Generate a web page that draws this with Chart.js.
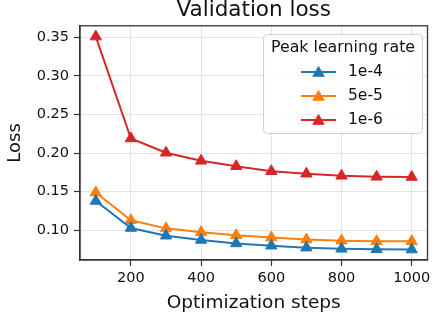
<!DOCTYPE html>
<html>
<head>
<meta charset="utf-8">
<script src="https://cdn.jsdelivr.net/npm/chart.js@4/dist/chart.umd.min.js"></script>
<style>
html,body{margin:0;padding:0;background:#fff;}
#wrap{width:435px;height:320px;}
</style>
</head>
<body>
<div id="wrap"><canvas id="c" width="435" height="320"></canvas></div>
<script>
const steps = [100, 200, 300, 400, 500, 600, 700, 800, 900, 1000];
const loss1e4 = [0.138, 0.103, 0.093, 0.0875, 0.083, 0.080, 0.0775, 0.076, 0.0755, 0.075];
const loss5e5 = [0.149, 0.113, 0.1025, 0.0975, 0.0935, 0.0905, 0.088, 0.0866, 0.0858, 0.0857];
const loss1e6 = [0.351, 0.219, 0.2005, 0.190, 0.183, 0.1765, 0.1733, 0.1706, 0.1693, 0.169];
const seriesLabels = ['1e-4', '5e-5', '1e-6'];
const seriesColors = ['#1f77b4', '#ff7f0e', '#d62728'];
const xTicks = [200, 400, 600, 800, 1000];
const yTicks = [0.10, 0.15, 0.20, 0.25, 0.30, 0.35];
const legendTitle = 'Peak learning rate';

const FONT = "'DejaVu Sans', sans-serif";
const seriesData = [loss1e4, loss5e5, loss1e6];

const datasets = seriesData.map((arr, i) => ({
  label: seriesLabels[i],
  data: steps.map((s, j) => ({x: s, y: arr[j]})),
  borderColor: seriesColors[i],
  backgroundColor: seriesColors[i],
  borderWidth: 2,
  pointStyle: 'triangle',
  pointRadius: 6.5,
  pointHoverRadius: 6.5,
  pointBorderWidth: 1,
  pointBorderColor: seriesColors[i],
  tension: 0
}));

const frameAndLegend = {
  id: 'frameAndLegend',
  afterDraw(chart) {
    const ctx = chart.ctx;
    const a = chart.chartArea;
    ctx.save();
    ctx.strokeStyle = '#333';
    ctx.lineWidth = 1.3;
    ctx.strokeRect(a.left, a.top, a.right - a.left, a.bottom - a.top);
    // legend box
    const bx = 263.5, by = 34.5, bw = 159, bh = 99, r = 4;
    ctx.beginPath();
    ctx.moveTo(bx + r, by);
    ctx.arcTo(bx + bw, by, bx + bw, by + bh, r);
    ctx.arcTo(bx + bw, by + bh, bx, by + bh, r);
    ctx.arcTo(bx, by + bh, bx, by, r);
    ctx.arcTo(bx, by, bx + bw, by, r);
    ctx.closePath();
    ctx.fillStyle = 'rgba(255,255,255,0.8)';
    ctx.fill();
    ctx.strokeStyle = '#d0d0d0';
    ctx.lineWidth = 1;
    ctx.stroke();
    ctx.fillStyle = '#111';
    ctx.font = '15.8px ' + FONT;
    ctx.textAlign = 'center';
    ctx.textBaseline = 'middle';
    ctx.fillText(legendTitle, bx + bw / 2, 48);
    const ys = [72, 96, 120];
    const rr = 6.5;
    seriesLabels.forEach((lab, i) => {
      const y = ys[i];
      ctx.strokeStyle = seriesColors[i];
      ctx.lineWidth = 2;
      ctx.beginPath();
      ctx.moveTo(301, y);
      ctx.lineTo(336, y);
      ctx.stroke();
      ctx.fillStyle = seriesColors[i];
      ctx.beginPath();
      ctx.moveTo(318.5, y + 1 - rr);
      ctx.lineTo(318.5 + rr * Math.sin(2 * Math.PI / 3), y + 1 + rr / 2);
      ctx.lineTo(318.5 - rr * Math.sin(2 * Math.PI / 3), y + 1 + rr / 2);
      ctx.closePath();
      ctx.fill();
      ctx.lineWidth = 1;
      ctx.stroke();
      ctx.fillStyle = '#111';
      ctx.textAlign = 'left';
      ctx.font = '15.5px ' + FONT;
      ctx.fillText(lab, 348, y);
    });
    ctx.restore();
  }
};

new Chart(document.getElementById('c'), {
  type: 'line',
  data: {datasets},
  plugins: [frameAndLegend],
  options: {
    responsive: false,
    animation: false,
    events: [],
    layout: {padding: {left: 0, right: 5, top: 0, bottom: 0}},
    plugins: {
      legend: {display: false},
      tooltip: {enabled: false},
      title: {
        display: true,
        fullSize: false,
        text: 'Validation loss',
        color: '#111',
        font: {family: FONT, size: 21.5, weight: 'normal', lineHeight: 1.2},
        padding: {top: -2, bottom: 2}
      }
    },
    scales: {
      x: {
        type: 'linear',
        min: 55,
        max: 1045,
        afterFit(s) { s.height = 60; },
        afterBuildTicks(s) { s.ticks = xTicks.map(v => ({value: v})); },
        ticks: {
          color: '#111',
          font: {family: FONT, size: 14.5},
          padding: 4,
          autoSkip: false,
          maxRotation: 0,
          callback: v => String(v)
        },
        grid: {color: '#e3e3e3', lineWidth: 1, tickLength: 6, tickColor: '#333', tickWidth: 1.2},
        border: {display: true, color: '#333', width: 1.3},
        title: {
          display: true,
          text: 'Optimization steps',
          color: '#111',
          font: {family: FONT, size: 18.5, lineHeight: 1.2},
          padding: {top: 0, bottom: 6}
        }
      },
      y: {
        type: 'linear',
        min: 0.0615,
        max: 0.365,
        afterFit(s) { s.width = 80; },
        afterBuildTicks(s) { s.ticks = yTicks.map(v => ({value: v})); },
        ticks: {
          color: '#111',
          font: {family: FONT, size: 14.5},
          padding: 5,
          autoSkip: false,
          callback: v => v.toFixed(2)
        },
        grid: {color: '#e3e3e3', lineWidth: 1, tickLength: 6, tickColor: '#333', tickWidth: 1.2},
        border: {display: true, color: '#333', width: 1.3},
        title: {
          display: true,
          text: 'Loss',
          color: '#111',
          font: {family: FONT, size: 18, lineHeight: 1.2},
          padding: {top: 5, bottom: 0}
        }
      }
    }
  }
});
</script>
</body>
</html>
